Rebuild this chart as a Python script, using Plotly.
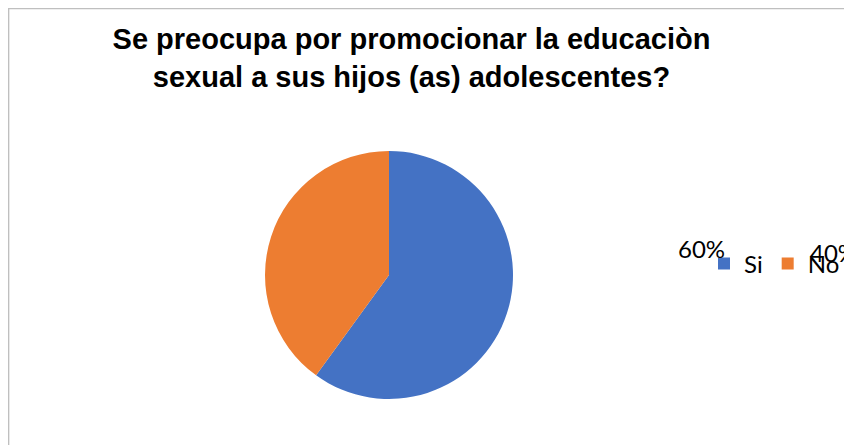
import plotly.graph_objects as go

labels = ["Si", "No"]
values = [60, 40]
colors = ["#4472C4", "#ED7D31"]
title_text = "Se preocupa por promocionar la educaciòn<br>sexual a sus hijos (as) adolescentes?"

# The page body has an 8px margin, so the figure is sized/positioned to account for it
OFF = 8
W, H = 852 - OFF, 445 - OFF
total = sum(values)
pct = [f"{v / total * 100:.0f}%" for v in values]


def px_x(x):
    return (x - OFF) / W


def px_y(y):
    return 1 - (y - OFF) / H


fig = go.Figure(go.Pie(
    labels=labels, values=values, sort=False, direction="clockwise", rotation=0,
    marker=dict(colors=colors), textinfo="none", hoverinfo="label+percent",
    domain=dict(x=[px_x(265), px_x(513)], y=[px_y(399), px_y(151)]),
))

# percentage labels (as placed in the original)
pct_pos = [(676, 248), (808, 252)]
for (px, py), t in zip(pct_pos, pct):
    fig.add_annotation(x=px_x(px), y=px_y(py), xref="paper", yref="paper", text=t,
                       showarrow=False, xanchor="left", yanchor="middle",
                       font=dict(family="Lato", size=24, color="#000"))

fig.add_shape(type="rect", xref="paper", yref="paper", x0=0.6 / W, x1=1.02,
              y0=-0.02, y1=1 - 0.6 / H, line=dict(color="#BFBFBF", width=1.5),
              fillcolor="rgba(0,0,0,0)")

fig.update_layout(
    width=W, height=H, margin=dict(l=0, r=0, t=0, b=0),
    paper_bgcolor="white", plot_bgcolor="white",
    title=dict(text=title_text, x=px_x(411.5), xanchor="center", y=1 - 41 / H, yanchor="top",
               font=dict(family="Liberation Sans, Arial", size=29, color="#000", weight="bold")),
    legend=dict(orientation="h", x=(696) / W, xanchor="left", y=1 - 256 / H, yanchor="middle",
                font=dict(family="Lato", size=24, color="#000"), bgcolor="rgba(0,0,0,0)",
                traceorder="normal"),
)

fig.write_html("out.html")
